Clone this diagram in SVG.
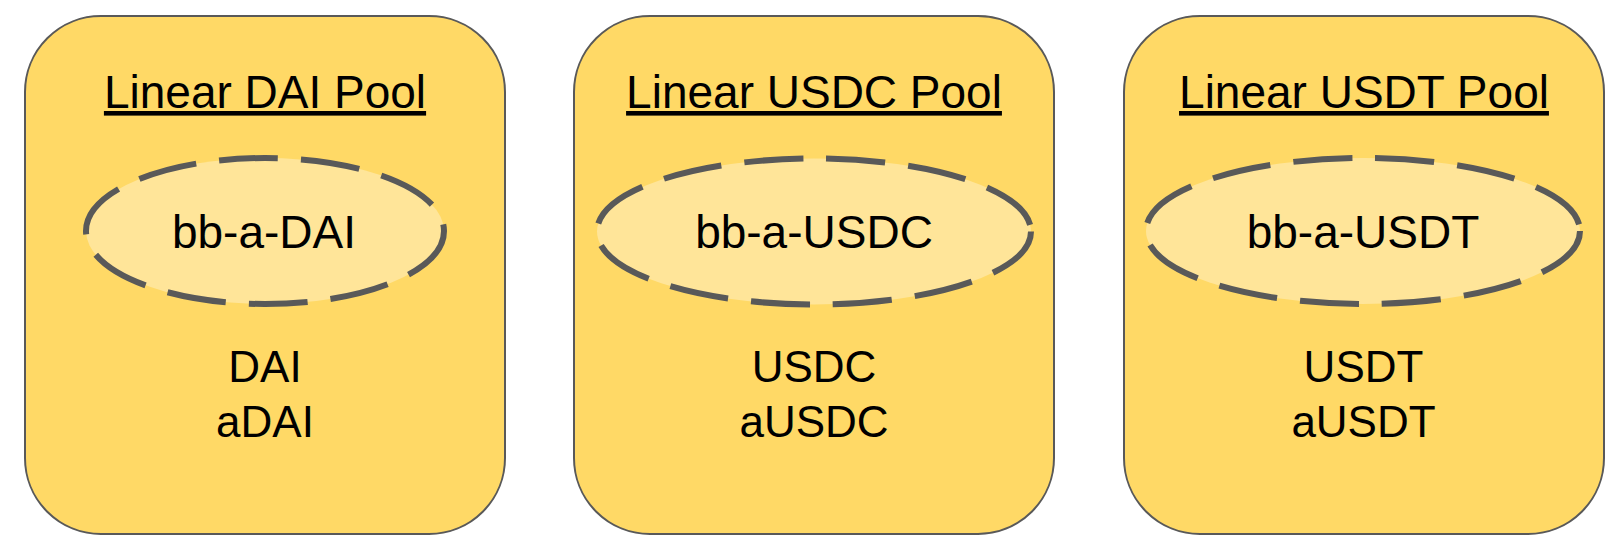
<svg xmlns="http://www.w3.org/2000/svg" width="1624" height="552" viewBox="0 0 1624 552">
  <style>
    .pool { fill: #FFD966; stroke: #595959; stroke-width: 2; }
    .token { fill: #FFE599; stroke: #595959; stroke-width: 6; stroke-dasharray: 59 23; }
    .title { font-family: "Liberation Sans", Arial, sans-serif; font-size: 46px; fill: #000; text-anchor: middle; text-decoration: underline; }
    .label { font-family: "Liberation Sans", Arial, sans-serif; font-size: 46px; fill: #000; text-anchor: middle; }
    .asset { font-family: "Liberation Sans", Arial, sans-serif; font-size: 44px; fill: #000; text-anchor: middle; }
  </style>
  <rect width="1624" height="552" fill="#FFFFFF"/>
  <g id="pool-dai">
    <rect class="pool" x="25" y="16" width="480" height="518" rx="76" ry="76"/>
    <text class="title" x="265" y="108">Linear DAI Pool</text>
    <g id="bb-a-dai">
      <ellipse class="token" cx="265" cy="231" rx="179" ry="73"/>
      <text class="label" x="264" y="248">bb-a-DAI</text>
    </g>
    <text class="asset" x="265" y="382">DAI</text>
    <text class="asset" x="265" y="437">aDAI</text>
  </g>
  <g id="pool-usdc">
    <rect class="pool" x="574" y="16" width="480" height="518" rx="76" ry="76"/>
    <text class="title" x="814" y="108">Linear USDC Pool</text>
    <g id="bb-a-usdc">
      <ellipse class="token" cx="814" cy="231.5" rx="217" ry="73"/>
      <text class="label" x="814" y="248">bb-a-USDC</text>
    </g>
    <text class="asset" x="814" y="382">USDC</text>
    <text class="asset" x="814" y="437">aUSDC</text>
  </g>
  <g id="pool-usdt">
    <rect class="pool" x="1124" y="16" width="480" height="518" rx="76" ry="76"/>
    <text class="title" x="1364" y="108">Linear USDT Pool</text>
    <g id="bb-a-usdt">
      <ellipse class="token" cx="1363" cy="231" rx="217" ry="73"/>
      <text class="label" x="1363" y="248">bb-a-USDT</text>
    </g>
    <text class="asset" x="1363.5" y="382">USDT</text>
    <text class="asset" x="1363.5" y="437">aUSDT</text>
  </g>
  <g id="connectors"></g>
</svg>
